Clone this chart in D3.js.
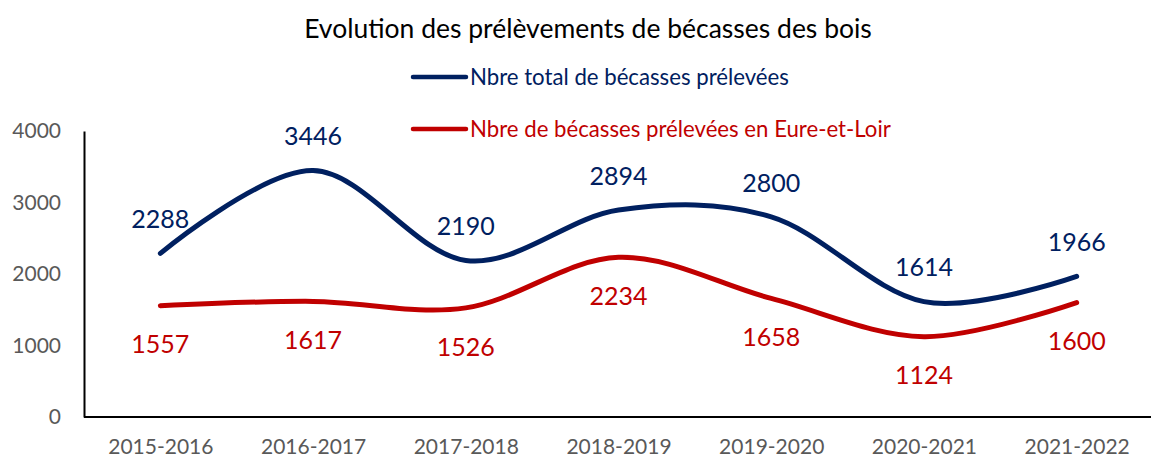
<!DOCTYPE html>
<html>
<head>
<meta charset="utf-8">
<script src="https://cdn.jsdelivr.net/npm/d3@7"></script>
<style>
  body { margin: 0; background: #fff; }
  svg { display: block; font-family: Lato, "Open Sans", sans-serif; }
</style>
</head>
<body>
<div id="chart"></div>
<script>
// Chart data.
const seasons = ["2015-2016", "2016-2017", "2017-2018", "2018-2019", "2019-2020", "2020-2021", "2021-2022"];
const totalValues = [2288, 3446, 2190, 2894, 2800, 1614, 1966];
const eureValues = [1557, 1617, 1526, 2234, 1658, 1124, 1600];
const yTicks = [0, 1000, 2000, 3000, 4000];

const seriesNames = ["Nbre total de bécasses prélevées", "Nbre de bécasses prélevées en Eure-et-Loir"];
const seriesColors = ["#002060", "#c00000"];

// Canvas dimensions.
const width = 1151, height = 457;
const plot = { left: 84, right: 1153, top: 131, bottom: 417 };

const svg = d3.select("#chart").append("svg")
    .attr("width", width)
    .attr("height", height);

const x = d3.scalePoint()
    .domain(seasons)
    .range([plot.left, plot.right])
    .padding(0.5);

const y = d3.scaleLinear()
    .domain([0, 4000])
    .range([plot.bottom, plot.top]);

// Title.
svg.append("text")
    .attr("x", 588)
    .attr("y", 38)
    .attr("text-anchor", "middle")
    .style("font-size", "26.5px")
    .style("fill", "#000")
    .text("Evolution des prélèvements de bécasses des bois");

// Y axis labels (no tick marks).
const yAxis = svg.append("g")
    .attr("transform", "translate(" + plot.left + ",0)")
    .call(d3.axisLeft(y).tickValues(yTicks).tickFormat(d3.format("d")).tickSize(0).tickPadding(23));
yAxis.select(".domain").attr("stroke", "#000").attr("stroke-width", 2);
yAxis.selectAll("text")
    .style("font-family", "Lato, sans-serif")
    .style("font-size", "21px")
    .style("fill", "#595959");

// X axis.
const xAxis = svg.append("g")
    .attr("transform", "translate(0," + plot.bottom + ")")
    .call(d3.axisBottom(x).tickSize(0).tickPadding(22));
xAxis.select(".domain")
    .attr("d", "M" + plot.left + ",0H" + plot.right)
    .attr("stroke", "#000").attr("stroke-width", 2);
xAxis.selectAll("text")
    .style("font-family", "Lato, sans-serif")
    .style("font-size", "21px")
    .style("fill", "#595959");

// Smoothed lines.
const line = d3.line()
    .x((d, i) => x(seasons[i]))
    .y(d => y(d))
    .curve(d3.curveCardinal.tension(0));

const series = [totalValues, eureValues];

series.forEach((vals, s) => {
    svg.append("path")
        .attr("d", line(vals))
        .attr("fill", "none")
        .attr("stroke", seriesColors[s])
        .attr("stroke-width", 5)
        .attr("stroke-linecap", "round");
});

// Data labels: blue above, red below.
svg.append("g").selectAll("text")
    .data(totalValues)
    .join("text")
    .attr("x", (d, i) => x(seasons[i]))
    .attr("y", d => y(d) - 34)
    .attr("dy", "0.35em")
    .attr("text-anchor", "middle")
    .style("font-size", "25px")
    .style("fill", seriesColors[0])
    .text(d => d);

svg.append("g").selectAll("text")
    .data(eureValues)
    .join("text")
    .attr("x", (d, i) => x(seasons[i]))
    .attr("y", d => y(d) + 39)
    .attr("dy", "0.35em")
    .attr("text-anchor", "middle")
    .style("font-size", "25px")
    .style("fill", seriesColors[1])
    .text(d => d);

// Legend.
const legendY = [77, 129];
seriesNames.forEach((name, s) => {
    const g = svg.append("g").attr("transform", "translate(0," + legendY[s] + ")");
    g.append("line")
        .attr("x1", 413).attr("x2", 466)
        .attr("stroke", seriesColors[s])
        .attr("stroke-width", 4.5)
        .attr("stroke-linecap", "round");
    g.append("text")
        .attr("x", 470)
        .attr("dy", "0.35em")
        .style("font-size", "22.2px")
        .style("fill", seriesColors[s])
        .text(name);
});
</script>
</body>
</html>
